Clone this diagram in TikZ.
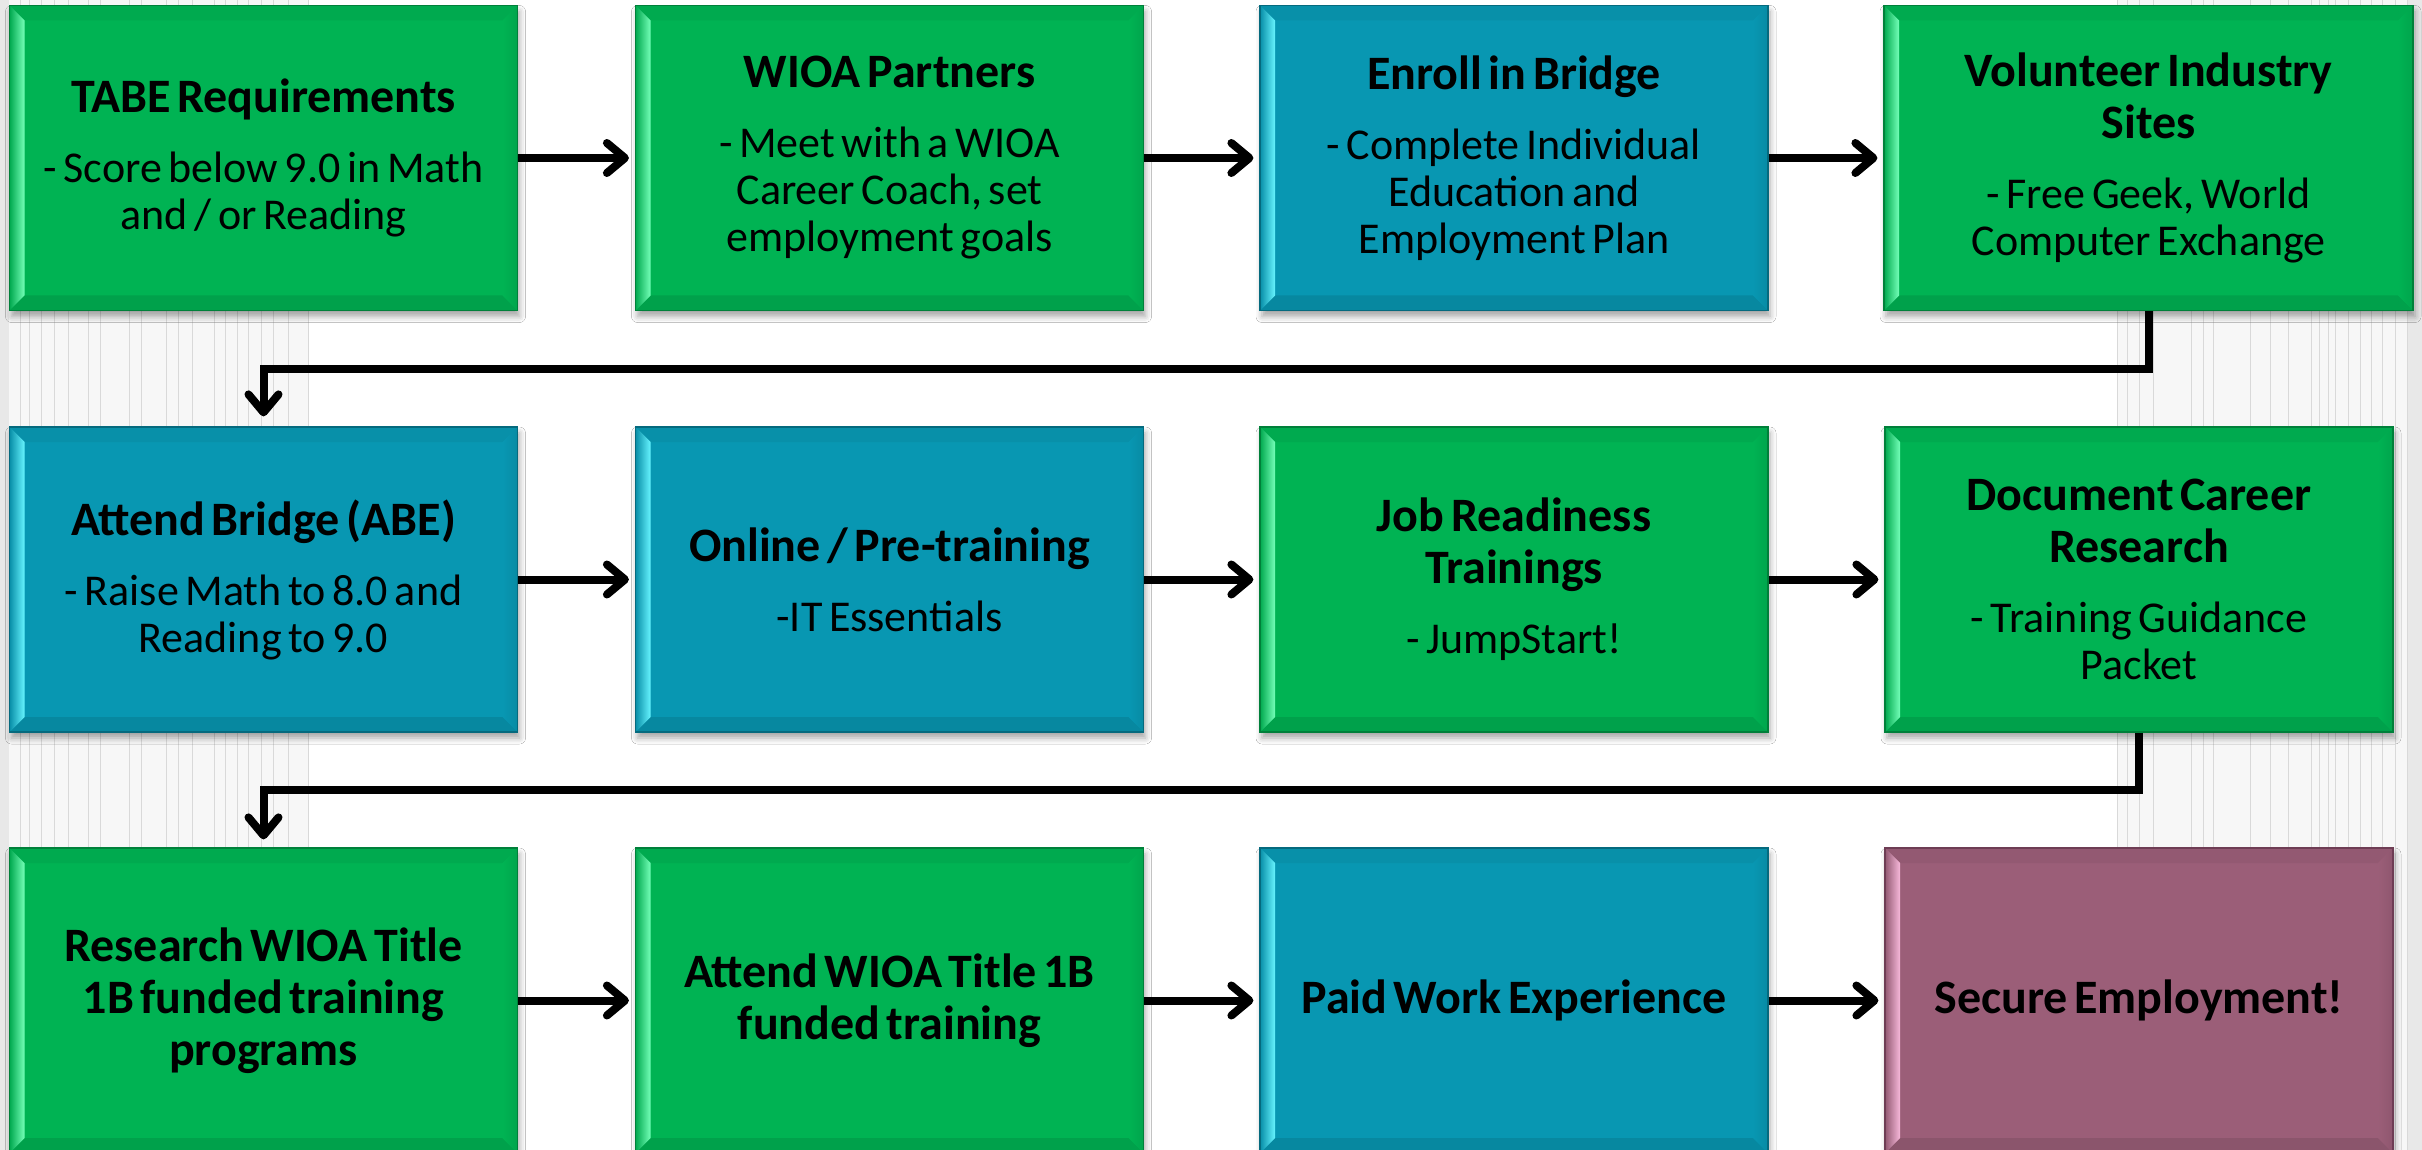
\documentclass[tikz,border=0pt]{standalone}
\usepackage{fontspec}
\setmainfont{Carlito}
\usetikzlibrary{arrows.meta,shadows.blur,calc}
\definecolor{gbase}{HTML}{00B353}
\definecolor{glight}{HTML}{74FFB8}
\definecolor{gdark}{HTML}{00803A}
\definecolor{bbase}{HTML}{0897B2}
\definecolor{blight}{HTML}{66F4FF}
\definecolor{bdark}{HTML}{056A7E}
\definecolor{mbase}{HTML}{9B5E78}
\definecolor{mlight}{HTML}{F7B8DA}
\definecolor{mdark}{HTML}{6E3D54}
\definecolor{panelc}{HTML}{F7F7F7}
\definecolor{stripec}{HTML}{D9D9D9}
\newcommand{\boxtitle}{\fontsize{24}{26}\bfseries\selectfont}
\newcommand{\boxbody}{\fontsize{22}{23.5}\mdseries\selectfont}
\tikzset{
  bev/.style n args={3}{
    rectangle, draw=#3, line width=0.6pt, fill=#1, inner sep=0pt,
    minimum width=254pt, minimum height=152.5pt, text width=250pt, align=center,
    blur shadow={shadow xshift=1pt, shadow yshift=-3pt, shadow blur radius=3pt, shadow opacity=35},
    path picture={
      \coordinate (pnw) at (path picture bounding box.north west);
      \coordinate (pne) at (path picture bounding box.north east);
      \coordinate (psw) at (path picture bounding box.south west);
      \coordinate (pse) at (path picture bounding box.south east);
      \coordinate (inw) at ($(pnw)+(7.5pt,-7.5pt)$);
      \coordinate (ine) at ($(pne)+(-7.5pt,-7.5pt)$);
      \coordinate (isw) at ($(psw)+(7.5pt,7.5pt)$);
      \coordinate (ise) at ($(pse)+(-7.5pt,7.5pt)$);
      \fill[#1!95!black] (pnw) -- (pne) -- (ine) -- (inw) -- cycle;
      \fill[#1!90!black] (psw) -- (pse) -- (ise) -- (isw) -- cycle;
      \shade[left color=#1!94!black, middle color=#1, right color=#2] (pnw) -- (inw) -- (isw) -- (psw) -- cycle;
      \shade[left color=#1, middle color=#2, right color=#1!92!black] (pne) -- (ine) -- (ise) -- (pse) -- cycle;
    }
  },
  gbox/.style={bev={gbase}{glight}{gdark}},
  bbox/.style={bev={bbase}{blight}{bdark}},
  mbox/.style={bev={mbase}{mlight}{mdark}},
  conn/.style={line width=4pt, shorten >=3pt,
    -{Straight Barb[length=9pt,width=15pt,line cap=round,line join=round]}},
}
\begin{document}
\begin{tikzpicture}[x=0.5pt,y=-0.5pt]
\useasboundingbox (0,0) rectangle (2422,1150);
% background
\fill[white] (0,0) rectangle (2422,1150);
\fill[panelc] (0,0) rectangle (308,1150);
\fill[panelc] (2117,0) rectangle (2422,1150);
\fill[stripec!60!white] (0,0) rectangle (9,1150);
\fill[stripec!60!white] (2407,0) rectangle (2422,1150);
\foreach \x in {20,29,41,54,68,88,100,129,141,166,178,192,214,225,237,248,261,273,288,308,
  2117,2127,2139,2153,2191,2203,2213,2250,2270,2288,2311,2319,2328,2335,2348,2360,2371,2382,2395,2407}
  \draw[stripec, line width=0.5pt] (\x,0) -- (\x,1150);
% row 1
\node[gbox] (b1) at (263.5,158) {\boxtitle TABE Requirements\par\vspace{11.5pt}\boxbody - Score below 9.0 in Math\\and / or Reading\par};
\node[gbox] (b2) at (889.5,158) {\boxtitle WIOA Partners\par\vspace{11.5pt}\boxbody - Meet with a WIOA\\Career Coach, set\\employment goals\par};
\node[bbox] (b3) at (1514,158) {\boxtitle Enroll in Bridge\par\vspace{11.5pt}\boxbody - Complete Individual\\Education and\\Employment Plan\par};
\node[gbox, minimum width=264.5pt, text width=260pt] (b4) at (2148.5,158) {\boxtitle Volunteer Industry\\Sites\par\vspace{11.5pt}\boxbody - Free Geek, World\\Computer Exchange\par};
% row 2
\node[bbox] (b5) at (263.5,579.5) {\boxtitle Attend Bridge (ABE)\par\vspace{11.5pt}\boxbody - Raise Math to 8.0 and\\Reading to 9.0\par};
\node[bbox] (b6) at (889.5,579.5) {\boxtitle Online / Pre-training\par\vspace{11.5pt}\boxbody -IT Essentials\par};
\node[gbox] (b7) at (1514,579.5) {\boxtitle Job Readiness\\Trainings\par\vspace{11.5pt}\boxbody - JumpStart!\par};
\node[gbox] (b8) at (2139,579.5) {\boxtitle Document Career\\Research\par\vspace{11.5pt}\boxbody - Training Guidance\\Packet\par};
% row 3
\node[gbox] (b9) at (263.5,1000.5) {\boxtitle Research WIOA Title\\1B funded training\\programs\par};
\node[gbox] (b10) at (889.5,1000.5) {\boxtitle Attend WIOA Title 1B\\funded training\par};
\node[bbox] (b11) at (1514,1000.5) {\boxtitle Paid Work Experience\par};
\node[mbox] (b12) at (2139,1000.5) {\boxtitle Secure Employment!\par};
% connectors
\draw[conn] (b1) -- (b2);
\draw[conn] (b2) -- (b3);
\draw[conn] (b3) -- (b4);
\draw[conn] (b5) -- (b6);
\draw[conn] (b6) -- (b7);
\draw[conn] (b7) -- (b8);
\draw[conn] (b9) -- (b10);
\draw[conn] (b10) -- (b11);
\draw[conn] (b11) -- (b12);
\coordinate (m1) at (0,369);
\coordinate (m2) at (0,790);
\draw[conn, shorten >=5pt] (b4.south) -- (b4.south |- m1) -| (b5.north);
\draw[conn, shorten >=4pt] (b8.south) -- (b8.south |- m2) -| (b9.north);
\end{tikzpicture}
\end{document}
